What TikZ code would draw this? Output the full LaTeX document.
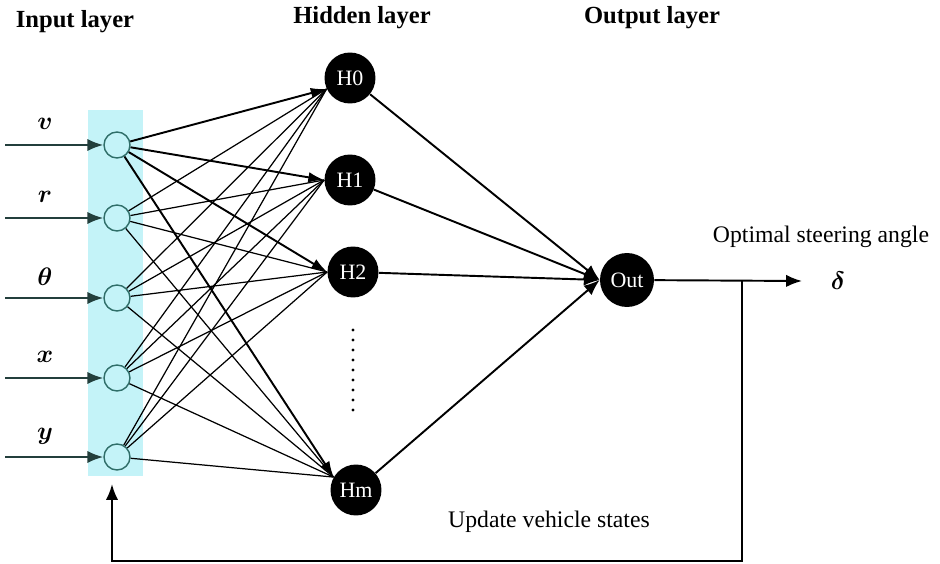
\documentclass[tikz,border=0pt]{standalone}
\usepackage{amsmath,amssymb}
\usepackage{fontspec}
\setmainfont{Liberation Serif}
\usetikzlibrary{arrows.meta}

\definecolor{bandcyan}{HTML}{C4F3F8}
\definecolor{ringteal}{HTML}{2F6E69}
\definecolor{feedteal}{HTML}{233F3C}

\begin{document}
\begin{tikzpicture}[x=0.02cm, y=-0.02cm,
    inp/.style={circle, draw=ringteal, fill=bandcyan, line width=0.8pt, minimum size=0.52cm, inner sep=0pt},
    hid/.style={circle, fill=black, text=white, minimum size=1.02cm, inner sep=0pt, font=\fontsize{12.5}{14}\selectfont},
    title/.style={font=\bfseries\fontsize{14}{16}\selectfont},
    plain/.style={font=\fontsize{13.5}{15}\selectfont},
    varlab/.style={font=\fontsize{15}{17}\selectfont},
    inarrow/.style={-{Latex[length=9pt,width=7pt]}, line width=1.3pt, draw=feedteal},
    thinlink/.style={line width=0.7pt},
    thicklink/.style={-{Latex[length=9pt,width=6pt]}, line width=1.1pt},
    outlink/.style={-{Latex[length=9pt,width=7pt]}, line width=1.1pt}]
    \useasboundingbox (0,0) rectangle (940,564);

    % layer titles
    \node[title] (tin) at (75,22) {Input layer};
    \node[title] (thid) at (362,18) {Hidden layer};
    \node[title] (tout) at (652,18) {Output layer};

    % input layer
    \fill[bandcyan] (88,110) rectangle (143,476);
    \foreach \i/\y/\lab in {1/145/v, 2/218/r, 3/298/\theta, 4/378/x, 5/457/y} {
        \node[inp] (in\i) at (117,\y) {};
        \coordinate (src\i) at (5,\y);
        \draw[inarrow] (src\i) -- (in\i);
        \node[varlab] (lab\i) at (45,\y-21) {$\boldsymbol{\lab}$};
    }

    % hidden layer
    \node[hid] (H0) at (350,78) {H0};
    \node[hid] (H1) at (350,180) {H1};
    \node[hid] (H2) at (353,272) {H2};
    \node[hid] (Hm) at (356,490) {Hm};
    \foreach \d in {0,...,8}
        \fill (353,330+\d*10) circle (0.9pt);

    \foreach \i in {2,...,5}
        \foreach \h/\a in {H0/205,H1/180,H2/180,Hm/150}
            \draw[thinlink] (in\i) -- (\h.\a);
    \foreach \h/\a in {H0/205,H1/180,H2/180,Hm/150}
        \draw[thicklink] (in1) -- (\h.\a);

    % output layer
    \node[hid, minimum size=1.08cm] (out) at (627,280) {Out};
    \foreach \h in {H0,H1,H2,Hm}
        \draw[outlink] (\h) -- (out.west);

    \coordinate (outend) at (802,281);
    \draw[outlink] (out) -- (outend);
    \node[varlab] (delta) at (838,281) {$\boldsymbol{\delta}$};
    \node[plain] (steer) at (821,237) {Optimal steering angle};

    % feedback loop
    \coordinate (tap) at (742,281);
    \coordinate (fb1) at (742,561);
    \coordinate (fb2) at (112,561);
    \coordinate (fbend) at (112,484);
    \draw[line width=1.3pt, -{Latex[length=9pt,width=7pt]}] (tap) -- (fb1) -- (fb2) -- (fbend);
    \node[plain] (update) at (549,522) {Update vehicle states};
\end{tikzpicture}
\end{document}
